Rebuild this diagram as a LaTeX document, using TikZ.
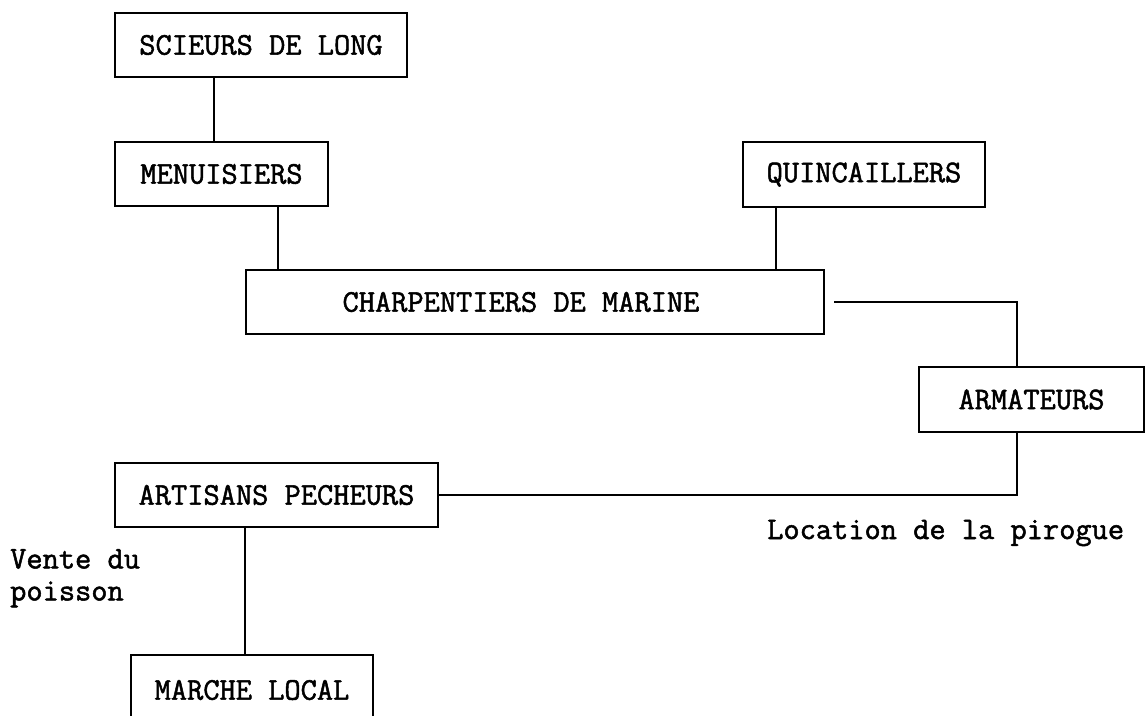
\documentclass[tikz,border=0pt]{standalone}
\usepackage{fontspec}
\setmonofont[FakeBold=1.6]{Latin Modern Mono}
\usetikzlibrary{calc}
\begin{document}
\begin{tikzpicture}[x=1pt,y=-1pt,
  every node/.style={font=\ttfamily\fontsize{31.5}{32}\selectfont},
  box/.style={draw,line width=2pt,rectangle,inner sep=0pt,align=center},
  link/.style={line width=2pt},
  note/.style={inner sep=0pt,align=left}]
\useasboundingbox (0,0) rectangle (1146,715);
% actors of the boat-building chain
\node[box,minimum width=292pt,minimum height=64pt] (scieurs) at (261,45) {SCIEURS DE LONG};
\node[box,minimum width=213pt,minimum height=64pt] (menuisiers) at (221.5,174) {MENUISIERS};
\node[box,minimum width=242pt,minimum height=65pt] (quinc) at (864,174.5) {QUINCAILLERS};
\node[box,minimum width=578pt,minimum height=64pt] (charp) at (535,302) {\hspace*{-28pt}CHARPENTIERS DE MARINE};
\node[box,minimum width=225pt,minimum height=65pt] (arm) at (1031.5,399.5) {ARMATEURS};
\node[box,minimum width=323pt,minimum height=64pt] (artisans) at (276.5,495) {ARTISANS PECHEURS};
\node[box,minimum width=242pt,minimum height=70pt] (marche) at (252,690) {MARCHE LOCAL};
% relations
\draw[link] ([xshift=-47pt]scieurs.south) -- ([xshift=-47pt]scieurs.south |- menuisiers.north);
\draw[link] ([xshift=56.5pt]menuisiers.south) -- ([xshift=56.5pt]menuisiers.south |- charp.north);
\draw[link] ([xshift=-88pt]quinc.south) -- ([xshift=-88pt]quinc.south |- charp.north);
\draw[link] ([xshift=9pt]charp.east) -| ([xshift=-14.5pt]arm.north);
\draw[link] ([xshift=-14.5pt]arm.south) |- (artisans.east);
\draw[link] ([xshift=-31.5pt]artisans.south) -- ([xshift=-31.5pt]artisans.south |- marche.north);
% annotations
\node[note,anchor=north west] (vente) at (10,549) {Vente du\\poisson};
\node[note,anchor=base west] (location) at (767,539) {Location de la pirogue};
\end{tikzpicture}
\end{document}
